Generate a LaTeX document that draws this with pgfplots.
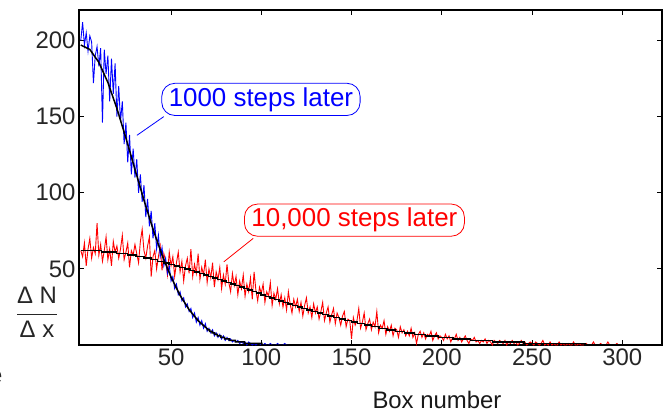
\documentclass[border=0pt]{standalone}
\usepackage{fontspec}
\setmainfont{Liberation Sans}
\usepackage{pgfplots}
\pgfplotsset{compat=1.18}
\begin{document}
\begin{tikzpicture}
\useasboundingbox (-79bp,-69bp) rectangle (585bp,345bp);
\begin{axis}[
  scale only axis, width=583bp, height=335bp,
  xmin=-1, xmax=322, ymin=0, ymax=220,
  xtick={50,100,150,200,250,300}, ytick={50,100,150,200},
  tick align=inside, major tick length=5bp,
  axis line style={line width=1.2bp},
  every tick/.style={black, line width=1bp},
  tick label style={font=\fontsize{24}{26}\selectfont, text=black!85},
  /pgf/number format/assume math mode=true,
  xlabel={Box number},
  xlabel style={at={(axis description cs:0.614,-0.164)}, anchor=center,
    font=\fontsize{24}{26}\selectfont, text=black!90},
]
% 10,000 steps later
\addplot[red, line width=0.9bp] coordinates {
(0,62)(1,58)(2,67)(3,52)(4,63)(5,70)(6,57)(7,64)(8,60)(9,80)(10,59)
(11,66)(12,55)(13,62)(14,71)(15,56)(16,63)(17,52)(18,68)(19,61)(20,65)
(21,57)(22,63)(23,72)(24,56)(25,61)(26,67)(27,51)(28,62)(29,59)(30,66)
(31,60)(32,54)(33,68)(34,76)(35,62)(36,57)(37,65)(38,71)(39,45)(40,58)
(41,62)(42,50)(43,58)(44,65)(45,49)(46,60)(47,55)(48,46)(49,61)(50,52)
(51,58)(52,45)(53,54)(54,61)(55,48)(56,55)(57,42)(58,52)(59,57)(60,47)
(61,63)(62,45)(63,53)(64,47)(65,60)(66,43)(67,51)(68,46)(69,56)(70,41)
(71,50)(72,44)(73,54)(74,38)(75,48)(76,43)(77,51)(78,37)(79,46)(80,40)
(81,53)(82,41)(83,35)(84,47)(85,39)(86,45)(87,33)(88,42)(89,37)(90,46)
(91,32)(92,40)(93,35)(94,44)(95,30)(96,48)(97,36)(98,29)(99,38)(100,34)
(101,40)(102,28)(103,35)(104,32)(105,41)(106,26)(107,34)(108,30)(109,37)(110,27)
(111,33)(112,25)(113,31)(114,23)(115,35)(116,27)(117,21)(118,30)(119,25)(120,30)
(121,22)(122,28)(123,19)(124,26)(125,31)(126,21)(127,25)(128,18)(129,27)(130,21)
(131,25)(132,17)(133,22)(134,28)(135,16)(136,21)(137,25)(138,15)(139,20)(140,24)
(141,14)(142,21)(143,18)(144,13)(145,19)(146,22)(147,12)(148,17)(149,16)(150,4)
(151,18)(152,13)(153,16)(154,24)(155,11)(156,15)(157,21)(158,10)(159,14)(160,17)
(161,10)(162,15)(163,12)(164,22)(165,8)(166,13)(167,11)(168,16)(169,7)(170,12)
(171,9)(172,13)(173,6)(174,11)(175,10)(176,5)(177,12)(178,8)(179,10)(180,6)
(181,9)(182,6)(183,11)(184,5)(185,8)(186,1)(187,7)(188,9)(189,5)(190,8)
(191,4)(192,7)(193,6)(194,9)(195,3)(196,6)(197,8)(198,4)(199,6)(200,5)
(201,3)(202,7)(203,4)(204,6)(205,2)(206,5)(207,4)(208,7)(209,3)(210,5)
(211,2)(212,4)(213,6)(214,3)(215,1)(216,4)(217,3)(218,5)(219,2)(220,3)
(221,1)(222,3)(223,2)(224,4)(225,1)(226,3)(227,2)(228,0)(229,3)(230,2)
(231,1)(232,3)(233,2)(234,1)(235,3)(236,0)(237,2)(238,1)(239,3)(240,1)
(241,2)(242,0)(243,1)(244,3)(245,1)(246,2)(247,0)(248,1)(249,2)(250,1)
(251,0)(252,2)(253,1)(254,0)(255,1)(256,3)(257,0)(258,1)(259,0)(260,2)
(261,0)(262,1)(263,0)(264,0)(265,2)(266,0)(267,1)(268,0)(269,0)(270,1)
(271,0)(272,0)(273,2)(274,0)(275,0)(276,1)(277,0)(278,0)(279,0)(280,1)
(281,0)(282,0)(283,0)(284,2)(285,0)(286,0)(287,0)(288,1)(289,0)(290,0)
(291,0)(292,2)(293,0)(294,0)(295,0)(296,0)(297,1)(298,0)(299,0)(300,0)
};
% 1000 steps later
\addplot[blue, line width=0.9bp] coordinates {
(0,200)(1,212)(2,197)(3,205)(4,193)(5,203)(6,199)(7,172)(8,190)(9,196)(10,183)
(11,195)(12,146)(13,194)(14,178)(15,190)(16,160)(17,188)(18,165)(19,185)(20,150)
(21,170)(22,147)(23,160)(24,132)(25,146)(26,120)(27,138)(28,112)(29,129)(30,110)
(31,122)(32,100)(33,112)(34,94)(35,105)(36,84)(37,96)(38,78)(39,88)(40,70)
(41,80)(42,63)(43,72)(44,58)(45,64)(46,52)(47,57)(48,47)(49,52)(50,42)
(51,45)(52,37)(53,40)(54,33)(55,35)(56,29)(57,31)(58,25)(59,27)(60,22)
(61,24)(62,18)(63,21)(64,15)(65,18)(66,13)(67,16)(68,11)(69,14)(70,9)
(71,11)(72,8)(73,10)(74,6)(75,8)(76,5)(77,7)(78,4)(79,6)(80,3)
(81,5)(82,3)(83,4)(84,2)(85,3)(86,2)(87,3)(88,1)(89,2)(90,1)
(91,2)(92,0)(93,2)(94,1)(95,0)(96,1)(97,0)(98,1)(99,1)(100,0)
(101,0)(102,1)(103,0)(104,0)(105,1)(106,0)(107,0)(108,0)(109,1)(110,0)
(111,0)(112,0)(113,1)(114,0)(115,0)
};
% theory curves
\addplot[black, line width=1.5bp, const plot] coordinates {
(0,62)(11.5,61)(19.9,60)(25.8,59)(30.7,58)(34.9,57)(38.8,56)(42.4,55)(45.7,54)
(48.9,53)(51.9,52)(54.8,51)(57.6,50)(60.4,49)(63.1,48)(65.7,47)(68.3,46)(70.8,45)
(73.3,44)(75.8,43)(78.2,42)(80.6,41)(83.1,40)(85.5,39)(87.9,38)(90.3,37)(92.6,36)
(95.0,35)(97.4,34)(99.9,33)(102.3,32)(104.7,31)(107.2,30)(109.7,29)(112.2,28)
(114.8,27)(117.3,26)(120.0,25)(122.6,24)(125.4,23)(128.1,22)(131.0,21)(133.9,20)
(136.9,19)(140.0,18)(143.2,17)(146.4,16)(149.9,15)(153.4,14)(157.1,13)(161.1,12)
(165.2,11)(169.6,10)(174.3,9)(179.4,8)(185.0,7)(191.1,6)(198.1,5)(206.1,4)
(215.8,3)(228.1,2)(245.5,1)(279.4,0)(322,0)
};
\addplot[black, line width=1.5bp] coordinates {
(0,197)(5,194.1)(10,185.6)(15,172.4)(20,155.3)(25,135.9)(30,115.4)(35,95.1)
(40,76.1)(45,59.1)(50,44.6)(55,32.6)(60,23.2)(65,16.0)(70.2,10.5)
(70.2,10)(71.4,10)(71.4,9)(72.7,9)(72.7,8)(74.1,8)(74.1,7)(75.7,7)(75.7,6)
(77.6,6)(77.6,5)(79.7,5)(79.7,4)(82.3,4)(82.3,3)(85.7,3)(85.7,2)(90.6,2)
(90.6,1)(100.3,1)(100.3,0)(116,0)
};
% callouts
\draw[blue, line width=0.8bp] (axis cs:46,150) -- (axis cs:31.1,137.7);
\node[draw=blue, fill=white, rounded corners=13bp, text=blue, line width=0.8bp,
  font=\fontsize{26}{28}\selectfont, inner xsep=7bp, inner ysep=4bp]
  at (axis cs:99.8,161.3) {1000 steps later};
\draw[red, line width=0.8bp] (axis cs:95.5,70) -- (axis cs:79.2,54.6);
\node[draw=red, fill=white, rounded corners=13bp, text=red, line width=0.8bp,
  font=\fontsize{26}{28}\selectfont, inner xsep=7bp, inner ysep=4bp]
  at (axis cs:151.6,82) {10,000 steps later};
\end{axis}
\node[text=black!85, font=\fontsize{24}{26}\selectfont] at (-42bp,33bp)
  {$\displaystyle\frac{\hbox{Δ N}}{\hbox{Δ x}}$};
\node[anchor=east, text=black!85, font=\fontsize{24}{26}\selectfont] at (-73bp,-32bp) {e};
\end{tikzpicture}
\end{document}
